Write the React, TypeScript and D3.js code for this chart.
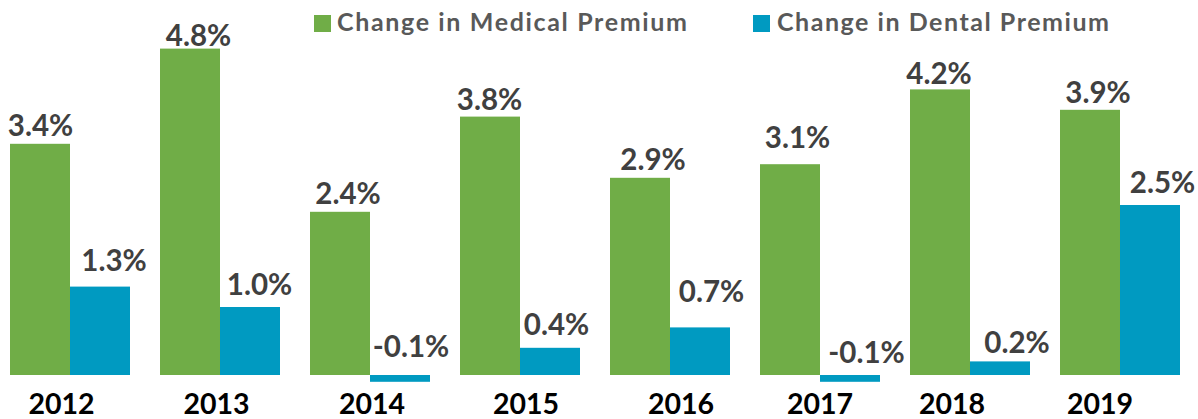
import React from "react";
import * as d3 from "d3";

// ---- data ----
const years = ["2012", "2013", "2014", "2015", "2016", "2017", "2018", "2019"];
const medicalChange = [3.4, 4.8, 2.4, 3.8, 2.9, 3.1, 4.2, 3.9];
const dentalChange = [1.3, 1.0, -0.1, 0.4, 0.7, -0.1, 0.2, 2.5];
const seriesNames = ["Change in Medical Premium", "Change in Dental Premium"];

// ---- layout tweaks (label placement as in the reference) ----
const medLabelDx = [0.5, 8.5, 8, -0.5, 13, 7.5, -1, 8];
const medLabelGap = [8, 3, 8, 7, 8, 16, 5, 7];
const denLabelDx = [14, 9.5, 11, 6.5, 11.5, 16.5, 17, 12.5];
const denLabelGap = [16, 12, 18, 13, 25, 12, 8, 12];
const yearLabelDx = [-8.5, -3.5, 2, 6, 11, 0, -18, -20];

const W = 1198;
const H = 419;
const GREEN = "#70AD47";
const BLUE = "#009AC1";
const FONT = "Lato, 'Open Sans', sans-serif";

export default function App() {
  const x0 = d3
    .scaleBand<string>()
    .domain(years)
    .range([-5, 1195])
    .paddingInner(0.2)
    .paddingOuter(0.1);
  const x1 = d3
    .scaleBand<string>()
    .domain(["med", "den"])
    .range([0, x0.bandwidth()])
    .padding(0);
  const y = d3.scaleLinear().domain([0, 5]).range([375, 35]);

  const fmt = (v: number) => (v < 0 ? "-" : "") + d3.format(".1f")(Math.abs(v)) + "%";

  const series = [
    { key: "med", values: medicalChange, color: GREEN, dx: medLabelDx, gap: medLabelGap },
    { key: "den", values: dentalChange, color: BLUE, dx: denLabelDx, gap: denLabelGap },
  ];

  return (
    <div style={{ position: "absolute", left: 0, top: 0 }}>
      <svg width={W} height={H} style={{ display: "block", background: "#fff" }}>
        {/* legend */}
        <g fontFamily={FONT} fontWeight={700} fontSize={25} fill="#595959">
          <rect x={314} y={15} width={17} height={17} fill={GREEN} />
          <text x={337} y={31} textLength={350} lengthAdjust="spacing">{seriesNames[0]}</text>
          <rect x={753} y={15} width={17} height={17} fill={BLUE} />
          <text x={777} y={31} textLength={332} lengthAdjust="spacing">{seriesNames[1]}</text>
        </g>

        {/* bars */}
        {years.map((yr, i) => (
          <g key={yr} transform={`translate(${x0(yr)},0)`}>
            {series.map((s) => {
              const v = s.values[i];
              const top = y(Math.max(0, v));
              const bot = y(Math.min(0, v));
              const bx = x1(s.key)!;
              return (
                <rect
                  key={s.key}
                  x={bx}
                  y={top}
                  width={x1.bandwidth()}
                  height={Math.max(1, bot - top)}
                  fill={s.color}
                />
              );
            })}
          </g>
        ))}

        {/* value labels */}
        <g fontFamily={FONT} fontWeight={700} fontSize={29.5} fill="#404040" textAnchor="middle">
          {years.map((yr, i) =>
            series.map((s) => {
              const v = s.values[i];
              const cx = x0(yr)! + x1(s.key)! + x1.bandwidth() / 2 + s.dx[i];
              const by = y(Math.max(0, v)) - s.gap[i];
              return (
                <text key={yr + s.key} x={cx} y={by}>
                  {fmt(v)}
                </text>
              );
            })
          )}
        </g>

        {/* year labels */}
        <g fontFamily={FONT} fontWeight={700} fontSize={28.5} fill="#000" textAnchor="middle">
          {years.map((yr, i) => (
            <text key={yr} x={x0(yr)! + x0.bandwidth() / 2 + yearLabelDx[i]} y={414}>
              {yr}
            </text>
          ))}
        </g>
      </svg>
    </div>
  );
}
